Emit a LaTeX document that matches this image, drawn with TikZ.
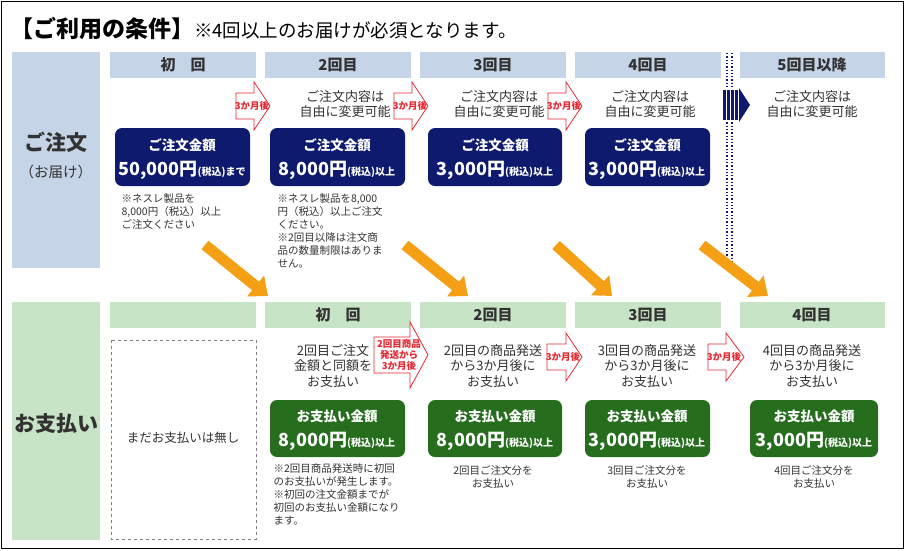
\documentclass[tikz,border=0pt]{standalone}
\usepackage{fontspec}
\setmainfont{Noto Sans CJK JP}
\usetikzlibrary{arrows.meta}
\definecolor{hb}{RGB}{197,212,230}
\definecolor{hg}{RGB}{200,228,198}
\definecolor{navy}{RGB}{14,26,110}
\definecolor{dg}{RGB}{38,110,30}
\definecolor{rd}{RGB}{228,40,50}
\definecolor{orng}{RGB}{245,160,20}
\definecolor{tx}{RGB}{50,50,50}
\newcommand{\fz}[2]{\fontsize{#1}{#2}\selectfont}
\newcommand{\rarrow}[6]{% x0, xh, xt, ymid, halfbody, halfhead
 \draw[rd,fill=white,line width=0.8pt] (#1,#4-#5) -- (#2,#4-#5) -- (#2,#4-#6) -- (#3,#4) -- (#2,#4+#6) -- (#2,#4+#5) -- (#1,#4+#5) -- cycle;}
\begin{document}
\begin{tikzpicture}[x=1pt,y=-1pt,
 hdr/.style={anchor=center,text=tx,font=\fz{15}{17}\bfseries},
 desc/.style={align=center,text=tx,font=\fz{13}{15.5}},
 note/.style={align=left,text=tx,font=\fz{10.5}{13},anchor=north west},
 nbox/.style={fill=navy,rounded corners=7pt,text=white},
 gbox/.style={fill=dg,rounded corners=7pt,text=white},
 rl/.style={text=rd,font=\fz{9.5}{11}\bfseries,align=center},
 oarr/.style={orng,line width=11pt,-{Triangle[length=16pt,width=26pt]}}]
\useasboundingbox (0,0) rectangle (905,550);
\draw[black,line width=1pt] (1.5,1.5) rectangle (903.5,548.5);
\node[anchor=west,inner sep=0] (title) at (10,29) {\fz{23}{25}\bfseries 【ご利用の条件】\fz{18.5}{20}\mdseries ※4回以上のお届けが必須となります。};
% left labels
\fill[hb] (12,52) rectangle (100,268);
\node[text=tx] (lo1) at (56,142) {\fz{21}{23}\bfseries ご注文};
\node[text=tx] (lo2) at (56,172) {\fz{14.5}{16}（お届け）};
\fill[hg] (12,302) rectangle (100,540);
\node[text=tx] (lp) at (56,424) {\fz{21}{23}\bfseries お支払い};
% top headers
\fill[hb] (110,52) rectangle (256,78); \node[hdr] (h1) at (183,65) {初\quad 回};
\fill[hb] (265,52) rectangle (411,78); \node[hdr] (h2) at (338,65) {2回目};
\fill[hb] (420,52) rectangle (566,78); \node[hdr] (h3) at (493,65) {3回目};
\fill[hb] (575,52) rectangle (721,78); \node[hdr] (h4) at (648,65) {4回目};
\fill[hb] (740,52) rectangle (885,78); \node[hdr] (h5) at (812,65) {5回目以降};
% dotted separator
\draw[navy,dotted,line width=1.3pt] (727,53) -- (727,268);
\draw[navy,dotted,line width=1.3pt] (732,53) -- (732,268);
\fill[white] (722,88) rectangle (737,122);
\foreach \xx in {723,727,731,735} \fill[navy] (\xx,90) rectangle (\xx+2.5,120);
\fill[navy] (739,88) -- (750,105) -- (739,122) -- cycle;
% red arrows top
\rarrow{236}{254}{270}{106}{13}{24}
\node[rl] (r1) at (252,106) {3か月後};
\rarrow{394}{412}{428}{106}{13}{24}
\node[rl] (r2) at (410,106) {3か月後};
\rarrow{548}{566}{582}{106}{13}{24}
\node[rl] (r3) at (564,106) {3か月後};
% top desc
\node[desc] (d2) at (345,104) {ご注文内容は\\自由に変更可能};
\node[desc] (d3) at (499,104) {ご注文内容は\\自由に変更可能};
\node[desc] (d4) at (650,104) {ご注文内容は\\自由に変更可能};
\node[desc] (d5) at (812,104) {ご注文内容は\\自由に変更可能};
% navy boxes
\fill[nbox] (115,128) rectangle (250,186);
\node[text=white,font=\fz{13.5}{15}\bfseries] (b1a) at (182,145) {ご注文金額};
\node[text=white] (b1b) at (182,170) {\fz{18}{20}\bfseries 50,000円\fz{10}{11}(税込)まで};
\fill[nbox] (270,128) rectangle (405,186);
\node[text=white,font=\fz{13.5}{15}\bfseries] (b2a) at (337,145) {ご注文金額};
\node[text=white] (b2b) at (337,170) {\fz{18}{20}\bfseries 8,000円\fz{10}{11}(税込)以上};
\fill[nbox] (428,128) rectangle (562,186);
\node[text=white,font=\fz{13.5}{15}\bfseries] (b3a) at (495,145) {ご注文金額};
\node[text=white] (b3b) at (495,170) {\fz{18}{20}\bfseries 3,000円\fz{10}{11}(税込)以上};
\fill[nbox] (585,128) rectangle (710,186);
\node[text=white,font=\fz{13.5}{15}\bfseries] (b4a) at (647,145) {ご注文金額};
\node[text=white] (b4b) at (647,170) {\fz{18}{20}\bfseries 3,000円\fz{10}{11}(税込)以上};
% notes top
\node[note] (n1) at (118,190) {※ネスレ製品を\\8,000円（税込）以上\\ご注文ください};
\node[note] (n2) at (274,190) {※ネスレ製品を8,000\\円（税込）以上ご注文\\ください。\\※2回目以降は注文商\\品の数量制限はありま\\せん。};
% orange arrows
\coordinate (o1s) at (205,245); \coordinate (o1e) at (268,296);
\coordinate (o2s) at (405,245); \coordinate (o2e) at (468,296);
\coordinate (o3s) at (556,245); \coordinate (o3e) at (612,296);
\coordinate (o4s) at (702,245); \coordinate (o4e) at (768,296);
\draw[oarr] (o1s) -- (o1e); \draw[oarr] (o2s) -- (o2e);
\draw[oarr] (o3s) -- (o3e); \draw[oarr] (o4s) -- (o4e);
% bottom headers
\fill[hg] (110,302) rectangle (256,328);
\fill[hg] (265,302) rectangle (411,328); \node[hdr] (g1) at (338,315) {初\quad 回};
\fill[hg] (420,302) rectangle (566,328); \node[hdr] (g2) at (493,315) {2回目};
\fill[hg] (575,302) rectangle (721,328); \node[hdr] (g3) at (648,315) {3回目};
\fill[hg] (740,302) rectangle (885,328); \node[hdr] (g4) at (812,315) {4回目};
% dashed box
\draw[gray,dashed,line width=0.8pt] (111,340) rectangle (256,539);
\node[text=tx,font=\fz{12.5}{14}] (none) at (183,438) {まだお支払いは無し};
% red arrows bottom
\rarrow{374}{410}{428}{355}{18}{33}
\node[rl] (r4) at (399,355) {2回目商品\\発送から\\3か月後};
\rarrow{547}{566}{582}{357}{13}{24}
\node[rl] (r5) at (563,357) {3か月後};
\rarrow{708}{726}{744}{357}{13}{24}
\node[rl] (r6) at (724,357) {3か月後};
% bottom desc
\node[desc] (e1) at (333,366) {2回目ご注文\\金額と同額を\\お支払い};
\node[desc] (e2) at (493,366) {2回目の商品発送\\から3か月後に\\お支払い};
\node[desc] (e3) at (647,366) {3回目の商品発送\\から3か月後に\\お支払い};
\node[desc] (e4) at (812,366) {4回目の商品発送\\から3か月後に\\お支払い};
% green boxes
\fill[gbox] (270,400) rectangle (405,457);
\node[text=white,font=\fz{13.5}{15}\bfseries] (c1a) at (337,416) {お支払い金額};
\node[text=white] (c1b) at (337,441) {\fz{18}{20}\bfseries 8,000円\fz{10}{11}(税込)以上};
\fill[gbox] (428,400) rectangle (562,457);
\node[text=white,font=\fz{13.5}{15}\bfseries] (c2a) at (495,416) {お支払い金額};
\node[text=white] (c2b) at (495,441) {\fz{18}{20}\bfseries 8,000円\fz{10}{11}(税込)以上};
\fill[gbox] (585,400) rectangle (710,457);
\node[text=white,font=\fz{13.5}{15}\bfseries] (c3a) at (647,416) {お支払い金額};
\node[text=white] (c3b) at (647,441) {\fz{18}{20}\bfseries 3,000円\fz{10}{11}(税込)以上};
\fill[gbox] (750,400) rectangle (878,457);
\node[text=white,font=\fz{13.5}{15}\bfseries] (c4a) at (814,416) {お支払い金額};
\node[text=white] (c4b) at (814,441) {\fz{18}{20}\bfseries 3,000円\fz{10}{11}(税込)以上};
% bottom notes
\node[note] (m1) at (270,460) {※2回目商品発送時に初回\\のお支払いが発生します。\\※初回の注文金額までが\\初回のお支払い金額になり\\ます。};
\node[desc,font=\fz{10.5}{13}] (m2) at (493,477) {2回目ご注文分を\\お支払い};
\node[desc,font=\fz{10.5}{13}] (m3) at (647,477) {3回目ご注文分を\\お支払い};
\node[desc,font=\fz{10.5}{13}] (m4) at (814,477) {4回目ご注文分を\\お支払い};
\end{tikzpicture}
\end{document}
